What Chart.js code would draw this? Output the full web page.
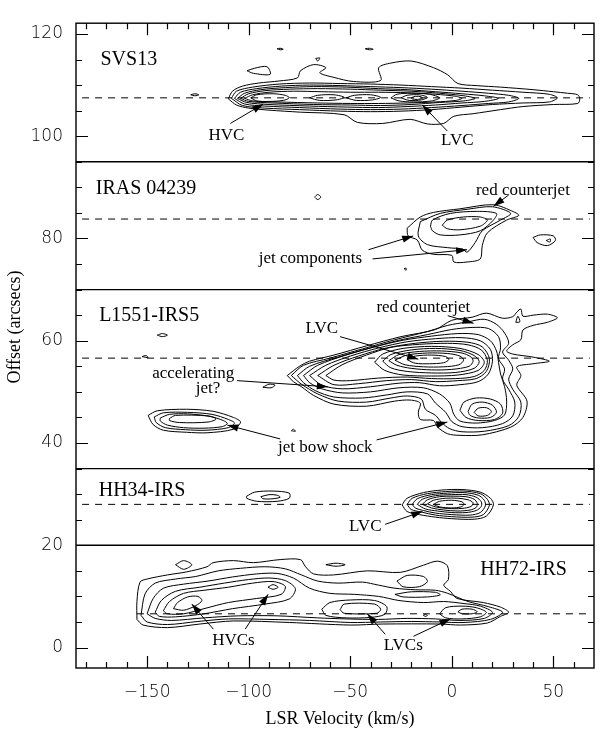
<!DOCTYPE html>
<html>
<head>
<meta charset="utf-8">
<script src="https://cdn.jsdelivr.net/npm/chart.js@4.4.1/dist/chart.umd.min.js"></script>
<style>
  html, body { margin: 0; padding: 0; background: #fff; }
  #c { display: block; }
</style>
</head>
<body>
<canvas id="c" width="600" height="732"></canvas>
<script>
// ---- axes ----
const xRange = [-185, 70];
const yRange = [-4, 122.1];
const xTickLabels = [-150, -100, -50, 0, 50];
const xTicksMinor = [-180, -170, -160, -140, -130, -120, -110, -90, -80, -70, -60, -40, -30, -20, -10, 10, 20, 30, 40, 60];
const yTickLabels = [0, 20, 40, 60, 80, 100, 120];
const yTicksMinor = [5, 10, 15, 25, 30, 35, 45, 50, 55, 65, 70, 75, 85, 90, 95, 105, 110, 115];
const xTitle = 'LSR Velocity (km/s)';
const yTitle = 'Offset (arcsecs)';

// ---- panels: boundaries and source position (dashed) ----
const panelEdges = [95, 70, 35, 20];
const sourceOffsets = [107.5, 83.8, 56.6, 28.0, 6.6];
const sourceLineStart = [-182, -182, -182, -182, -155];
const sourceLineEnd = 68;

// ---- SVS13 contours (velocity km/s, offset arcsec) ----
const svs13_1 = [[-110,107.3],[-108,108.8],[-103,109.8],[-95,110.4],[-85,110.8],[-76,111.4],[-74.5,112.8],[-68,114],[-62,113.4],[-65,112.4],[-58,111.5],[-48.5,110.7],[-35,110.9],[-36,113.4],[-30,114.3],[-20,114.7],[-9,113.4],[-2,112],[3,110.3],[12,109.9],[24,109.6],[40,109.1],[50,108.7],[57,108.4],[62,108.1],[63,107.3],[62,106.4],[50,106.2],[35,105.8],[24,105.2],[10.5,104.4],[1,103.9],[-4,102.5],[-12,102.4],[-20.5,103.3],[-34,102.5],[-46.5,102.7],[-53,104.2],[-74.5,104.7],[-90,105.1],[-100,105.5],[-106,106.1]];
const svs13_2 = [[-108.5,107.4],[-106,108.8],[-98,109.6],[-85,110.2],[-70,110.4],[-55,110.3],[-40,110.2],[-25,110],[-10,109.7],[5,109.4],[20,109],[35,108.6],[48,108.2],[52,107.5],[48,106.7],[35,106.5],[20,106.2],[5,105.7],[-10,105.2],[-25,104.9],[-40,104.8],[-55,104.9],[-75,105.2],[-92,105.5],[-103,106]];
const svs13_3 = [[-107,107.4],[-104,108.6],[-96,109.3],[-84,109.8],[-70,110],[-55,109.9],[-40,109.7],[-25,109.5],[-10,109.2],[5,108.8],[18,108.4],[28,108],[33,107.4],[28,106.7],[18,106.4],[5,106],[-10,105.6],[-25,105.3],[-40,105.2],[-55,105.3],[-75,105.6],[-92,105.9],[-102,106.3]];
const svs13_4 = [[-105.5,107.4],[-102,108.4],[-94,109.1],[-82,109.5],[-68,109.7],[-52,109.6],[-36,109.3],[-22,109.1],[-8,108.7],[5,108.3],[16,107.9],[23,107.4],[16,106.8],[5,106.5],[-8,106.1],[-22,105.8],[-36,105.6],[-52,105.7],[-70,105.9],[-90,106.2],[-101,106.6]];
const svs13_5 = [[-104,107.4],[-100,108.3],[-92,108.9],[-80,109.2],[-66,109.3],[-50,109.2],[-35,109],[-20,108.8],[-6,108.4],[6,107.9],[11.5,107.4],[6,106.9],[-6,106.6],[-20,106.2],[-35,106],[-50,106.1],[-68,106.2],[-88,106.5],[-100,106.8]];
const svs13_6 = [[-102,107.4],[-98,108.1],[-90,108.6],[-78,108.8],[-64,108.7],[-50,108.6],[-36,108.6],[-22,108.5],[-8,108.2],[2,107.8],[5,107.4],[2,107],[-8,106.7],[-22,106.5],[-36,106.4],[-50,106.4],[-66,106.5],[-86,106.7],[-98,106.9]];
const svs13_hvc = [[-99,107.5],[-96,108.1],[-88,108.3],[-82,108],[-80,107.5],[-83,107],[-90,106.8],[-96,106.9]];
const svs13_m1 = [[-70,107.5],[-66,108],[-58,108.1],[-53,107.6],[-57,107.1],[-65,107]];
const svs13_m2 = [[-52,107.5],[-48,108],[-40,108.1],[-35,107.6],[-39,107.1],[-47,107]];
const svs13_lvc1 = [[-30,107.5],[-27,108.2],[-20,108.4],[-11,108.2],[-6,107.5],[-10,106.9],[-19,106.7],[-26,106.9]];
const svs13_lvc2 = [[-25,107.5],[-22,108],[-16,108.1],[-12,107.6],[-15,107.1],[-21,107]];
const svs13_lvc3 = [[-20,107.5],[-18,107.8],[-15,107.7],[-14.5,107.4],[-17,107.2],[-19.5,107.3]];
const svs13_knot1 = [[-100.8,112.8],[-97,113.3],[-91,113.6],[-89.4,112.1],[-97.7,112.3]];
const svs13_knot2 = [[-128.5,108.1],[-126.5,108.3],[-124.5,108.1],[-126.5,107.9]];
const svs13_knot3 = [[-86,117.1],[-84.5,117.2],[-83,117],[-84.5,116.9]];
const svs13_knot4 = [[-42.6,117.1],[-40.6,117.2],[-38.7,117],[-40.6,116.9]];
const svs13_knot5 = [[-67,115.2],[-65,115.3],[-66,114.7]];

// ---- IRAS 04239 contours ----
const iras_1 = [[-22,82],[-15.5,84.2],[-9,85.1],[4,85.8],[20.5,86.6],[30.5,85.2],[33,84.5],[27,83.6],[17.5,81.1],[15,78.6],[14,76],[7.5,75.4],[1,75.4],[0,76.7],[-9,76.9],[-14.5,77.7],[-17,79.7],[-21.5,80.5]];
const iras_2 = [[-15.5,83.3],[-5.7,84.9],[7.5,85.7],[20,86.2],[29,84.9],[24,83.6],[15,81.5],[11.5,79.2],[7.5,77.3],[5.5,77.9],[-2,78.2],[-12,78.8],[-16.5,80.5]];
const iras_3 = [[-10.5,82.4],[-9.5,83.6],[-0.7,84.9],[12.5,85.3],[22,84.9],[20.5,83.6],[14,81.5],[4,80.7],[-5.7,80.7],[-9.5,81.5]];
const iras_4 = [[-4.7,82.6],[-2.2,83.6],[5.7,84.2],[14,84.2],[17.5,83.6],[14,82.4],[4,81.7],[-2.2,81.9]];
const iras_knot1 = [[40,80.2],[43.6,80.7],[50,80.5],[51,79.6],[47,78.6],[42,79.2]];
const iras_knot2 = [[46.5,79.6],[48.5,79.9],[48.3,79.3]];
const iras_knot3 = [[-67.5,88.1],[-66,88.6],[-64.5,88.1],[-66,87.6]];
const iras_knot4 = [[-23.5,74.1],[-22.5,74.2],[-22.5,73.8]];

// ---- L1551-IRS5 contours ----
const l1551_1 = [[-81,53.2],[-75,55],[-70,56],[-58,57.2],[-42,59],[-25,60.8],[-8,62.2],[0,64],[10,64.6],[17,65.4],[25,64.4],[30,64.7],[32,65.6],[34,66.2],[35,64.8],[40,65],[47,65.2],[52,64.5],[47,63.6],[40,63],[35,62.1],[34,60.2],[30,59.2],[27,58],[30,57.4],[40,56.8],[48,56],[40,55.5],[32,54.9],[34,53.2],[32,51.3],[37,48.2],[35,45],[29,43.1],[15,41.6],[4,41.5],[-2,41.8],[-7,43.1],[-9,44.4],[-15.5,44.6],[-16.5,46],[-15.5,47.8],[-20.5,48.4],[-28,48.2],[-42,47.2],[-58,47.6],[-68,49.3],[-74,51],[-78,52]];
const l1551_2 = [[-79,53.2],[-73,55.2],[-60,56.6],[-44,58.4],[-28,60.2],[-12,61.8],[-2,63],[8,63.7],[16,64.2],[22,63.2],[26,61.5],[28,59.5],[25,57.8],[28,56.2],[30,54.5],[28,52.5],[30,50.5],[34,48],[33,45.2],[28,43.4],[16,42.3],[5,42.2],[-1,42.8],[-5,44],[-8,45.4],[-13,46.6],[-15,48.6],[-22,49.2],[-30,48.8],[-42,48],[-56,48.2],[-66,49.6],[-74,51.5]];
const l1551_3 = [[-76,53.2],[-70,55],[-56,56.8],[-40,58.6],[-26,60.1],[-12,61.2],[0,62.2],[10,62.6],[18,62.4],[23,60.8],[24,58.6],[23,56.5],[26,54.5],[25,52.5],[28,50.5],[31,48],[30,45.3],[25,43.8],[15,43],[5,43.2],[0,44.2],[-3,46],[-8,47.8],[-12,49.6],[-22,50],[-32,49.4],[-44,48.8],[-58,49],[-67,50.2],[-73,51.8]];
const l1551_4 = [[-73,53.2],[-66,55.2],[-52,57.2],[-38,58.8],[-24,60.1],[-10,60.9],[3,61.4],[13,61.2],[19,60],[22,58],[23,55.8],[24,53.5],[26,51],[27,48.2],[26,45.5],[21,44.4],[12,43.9],[4,44.3],[1,45.6],[-1,47.8],[-6,49.6],[-14,50.8],[-26,50.8],[-40,50],[-54,49.8],[-64,50.6],[-70,51.8]];
const l1551_5 = [[-70,53.2],[-62,55.2],[-50,57],[-36,58.6],[-22,59.8],[-8,60.4],[5,60.6],[14,60],[19,58.3],[20,56],[18,53.5],[13,52],[4,51.4],[-6,51.2],[-16,51.8],[-26,51.7],[-40,51],[-54,50.6],[-64,51.3]];
const l1551_6 = [[-66,53.2],[-58,55.2],[-46,57],[-32,58.6],[-18,59.5],[-4,59.9],[8,59.7],[15,58.8],[18.5,56.5],[17,54],[12,52.6],[3,52.2],[-8,52],[-20,52.4],[-32,52.2],[-46,51.6],[-58,51.4]];
const l1551_7 = [[-62,53.2],[-54,55.3],[-42,57.2],[-30,58.7],[-16,59.3],[-2,59.5],[8,59.2],[14.5,58.2],[17.5,56.2],[16,54.2],[11,53],[2,52.6],[-10,52.6],[-22,52.9],[-36,52.7],[-50,52.2],[-58,52.3]];
const l1551_e5 = [[-38,55.8],[-34,57.4],[-24,58.5],[-10,58.9],[4,58.5],[13,57.3],[16,55.8],[13,54.2],[3,53.3],[-10,53.1],[-24,53.3],[-33,54.2]];
const l1551_e4 = [[-34,56],[-30,57.3],[-20,58.2],[-8,58.5],[4,58.1],[11,57.1],[13.5,55.9],[11,54.6],[2,53.8],[-10,53.7],[-22,54],[-30,54.7]];
const l1551_e3 = [[-31,56.1],[-26,57.3],[-16,57.9],[-5,58],[5,57.6],[9.5,56.8],[10.5,56],[8.5,55],[0,54.4],[-10,54.3],[-20,54.6],[-27,55.2]];
const l1551_e2 = [[-28,56.2],[-22,57.2],[-12,57.6],[-2,57.5],[4,57],[5.8,56.2],[3.5,55.3],[-4,54.9],[-14,54.9],[-23,55.3]];
const l1551_e1 = [[-22,56.3],[-18,57],[-10,57.2],[-3,56.9],[-1.5,56.3],[-4,55.7],[-11,55.5],[-18,55.6]];
const l1551_b3 = [[4,46.4],[6,48],[12,48.8],[19,48.6],[24,47.6],[25,45.8],[21,44.6],[13,44.4],[7,45]];
const l1551_b2 = [[8,46.2],[10,47.6],[15,48],[20,47.4],[22,46],[19,45],[13,44.9],[9,45.4]];
const l1551_b1 = [[11,46],[13,46.8],[17,46.9],[19.5,46.2],[17.5,45.4],[13,45.3]];
const l1551_cj = [[31.5,63.6],[32.5,64.8],[33.5,63.7]];
const l1551_j1 = [[-149.5,45.4],[-145,46.3],[-130.5,46.6],[-117.5,46.2],[-107.5,45],[-104,44.1],[-107.5,42.7],[-120.5,42],[-130.5,42.1],[-142,42.5],[-147,43.6]];
const l1551_j2 = [[-146.5,45.1],[-142,45.9],[-130,46],[-118,45.6],[-110,44.6],[-107,43.9],[-110,43],[-121,42.5],[-131,42.6],[-141,43],[-145.5,44]];
const l1551_j3 = [[-143.5,44.9],[-139,45.6],[-130,45.7],[-119,45.2],[-112.5,44.4],[-110.5,43.8],[-113,43.2],[-122,42.9],[-132,43],[-140,43.5],[-143.5,44.3]];
const l1551_j4 = [[-139,44.8],[-136,45.4],[-120,45.3],[-116,44.7],[-120,44.1],[-134,44],[-139,44.4]];
const l1551_knot1 = [[-145,61.1],[-142.5,61.4],[-140,61.1],[-142.5,60.8]];
const l1551_knot2 = [[-93,50.9],[-90,51.5],[-87,51.3],[-89,50.8]];
const l1551_knot3 = [[-152.5,56.9],[-150.5,57.1],[-149.5,56.7]];
const l1551_knot4 = [[-79,42.4],[-78,42.7],[-77,42.3]];

// ---- HH34-IRS contours ----
const hh34_1 = [[-24.5,27.9],[-22,29.2],[-14,30.3],[-5,30.8],[5,30.9],[14,30.4],[19,29.2],[20.5,27.9],[17,25.7],[11,25.1],[0,25.2],[-8,25.5],[-16,26],[-22,26.6]];
const hh34_2 = [[-22,28],[-19.5,29.2],[-12,30.1],[-3,30.5],[6,30.6],[14,30.1],[17.5,29],[18.5,27.8],[15.5,26],[10,25.5],[0,25.6],[-8,25.9],[-15,26.5],[-20,27]];
const hh34_3 = [[-19.5,28],[-17,29.1],[-10,29.9],[-2,30.2],[6,30.3],[13,29.8],[16,28.8],[16.5,27.7],[14,26.4],[9,25.9],[0,26],[-8,26.3],[-14,26.8],[-18,27.3]];
const hh34_4 = [[-17,28],[-14.5,29],[-8,29.7],[0,29.9],[7,29.9],[12,29.4],[14.5,28.5],[14.5,27.6],[12,26.8],[7,26.4],[0,26.4],[-7,26.7],[-13,27.1]];
const hh34_5 = [[-14.5,28],[-12,28.9],[-6,29.5],[1,29.6],[7,29.5],[11,29],[12.5,28.2],[12,27.4],[9,26.9],[3,26.7],[-4,26.9],[-10,27.3]];
const hh34_6 = [[-12,28.1],[-9,28.8],[-3,29.2],[3,29.2],[8,28.9],[10.5,28.3],[9.5,27.6],[5,27.2],[-2,27.2],[-8,27.5]];
const hh34_7 = [[-9,28],[-6,28.6],[0,28.8],[5,28.5],[6,28],[4.5,27.5],[0,27.3],[-6,27.5]];
const hh34_k1 = [[-101,29.6],[-97,30.4],[-88,30.6],[-80,30.2],[-80,29.2],[-86,28.6],[-96,28.6],[-101,29.2]];
const hh34_k2 = [[-94,29.5],[-90,29.9],[-86,29.8],[-84.5,29.4],[-88,29.1],[-93,29.1]];

// ---- HH72-IRS contours ----
const hh72_1 = [[-155,5.5],[-155,9],[-153.5,12.8],[-150,13.4],[-140,14.2],[-130.5,14.8],[-120.5,15.8],[-117.5,16.6],[-107.5,17],[-97.7,16.6],[-84.5,17.2],[-74.5,17.2],[-72,15.8],[-68,14.4],[-58.3,14.2],[-41.6,15],[-25.4,14.7],[-14,16.1],[-7.1,16.9],[-2.2,16],[-1.7,13.3],[-4,12.2],[-0.7,11],[2.6,9.6],[15.5,8.8],[24,7.9],[28,6.9],[24,6.1],[17.5,4.8],[4.2,4.4],[-5.7,4.6],[-34,4.6],[-50,4.4],[-80,4.9],[-107.5,5.2],[-124,4.6],[-140,3.9],[-152,4.4]];
const hh72_2 = [[-153,6.3],[-151,10.5],[-146,12.6],[-136,13.4],[-126,13.9],[-115,15],[-104,15.5],[-92,15.8],[-82,15.4],[-74,14.2],[-66,13],[-56,12.6],[-44,12.8],[-36,12.2],[-28,11.6],[-18,11.3],[-8,11.2],[-2,10.6],[8,9],[18,8],[25,6.9],[19,5.5],[6,4.9],[-6,5],[-20,5.1],[-35,5],[-50,4.9],[-70,5.3],[-90,5.5],[-110,5.6],[-125,5.1],[-140,4.5],[-150,5]];
const hh72_3 = [[-150,6.6],[-147,9.6],[-142,11.6],[-132,12.4],[-120,13],[-108,13.8],[-96,14.4],[-86,14.5],[-78,13.6],[-70,11.6],[-60,10.6],[-48,10.4],[-36,10],[-26,9.2],[-14,8.8],[-4,9],[6,8.6],[14,8.1],[20,6.9],[16,5.7],[4,5.3],[-8,5.6],[-22,5.7],[-36,5.5],[-52,5.6],[-66,5.8],[-86,6.2],[-105,6.2],[-122,5.8],[-138,5.3],[-146,5.7]];
const hh72_4 = [[-146,6.9],[-143,9.2],[-136,11],[-124,11.8],[-112,12.6],[-100,13.3],[-90,13.6],[-82,13.1],[-77,11.5],[-80,9.5],[-92,8.5],[-108,7.6],[-122,6.6],[-136,6],[-144,6.1]];
const hh72_5 = [[-142,7.2],[-139,9],[-132,10.6],[-122,11.2],[-110,11.8],[-98,12.6],[-88,12.9],[-82,12],[-84,10.4],[-96,9.6],[-110,8.8],[-122,7.6],[-132,6.6],[-140,6.6]];
const hh72_hvc1 = [[-137,7.6],[-135,8.8],[-130,9.9],[-125,10],[-123,9.2],[-126,8.2],[-132,7.3]];
const hh72_hvc2 = [[-90.5,11.8],[-88,12.3],[-85.5,11.8],[-88,11.4]];
const hh72_lvc1a = [[-64,7.5],[-60,8.8],[-50,9.3],[-38,9.2],[-32,8],[-33,6.5],[-40,5.9],[-52,5.8],[-62,6.3]];
const hh72_lvc1b = [[-55,7.4],[-53,8.5],[-38,8.5],[-35,7.5],[-37,6.7],[-53,6.7]];
const hh72_lvc2a = [[-6,6.6],[-3,7.8],[5,8.1],[12,7.8],[17,6.9],[14,6],[5,5.6],[-3,5.8]];
const hh72_lvc2b = [[3,7],[5,7.5],[10,7.5],[12.5,7],[10,6.6],[5,6.6]];
const hh72_ridge = [[-28,10.4],[-20,10.9],[-8,10.8],[-5.7,10.3],[-12,9.9],[-24,9.9]];
const hh72_knot1 = [[-27,13],[-22,14.1],[-14,13.9],[-12,12.9],[-16,11.9],[-24,11.9]];
const hh72_knot2 = [[-62,16.2],[-57,16.5],[-52.5,16.2],[-57,15.9]];
const hh72_knot3 = [[-136,16.2],[-132,17],[-128,16.2],[-132,15.3]];
const hh72_knot4 = [[-14,6.3],[-13,6.5],[-12,6.3],[-13,6.1]];

const contourRings = [
  svs13_1, svs13_2, svs13_3, svs13_4, svs13_5, svs13_6, svs13_hvc, svs13_m1, svs13_m2,
  svs13_lvc1, svs13_lvc2, svs13_lvc3, svs13_knot1, svs13_knot2, svs13_knot3, svs13_knot4, svs13_knot5,
  iras_1, iras_2, iras_3, iras_4, iras_knot1, iras_knot2, iras_knot3, iras_knot4,
  l1551_1, l1551_2, l1551_3, l1551_4, l1551_5, l1551_6, l1551_7,
  l1551_e5, l1551_e4, l1551_e3, l1551_e2, l1551_e1, l1551_b3, l1551_b2, l1551_b1, l1551_cj,
  l1551_j1, l1551_j2, l1551_j3, l1551_j4, l1551_knot1, l1551_knot2, l1551_knot3, l1551_knot4,
  hh34_1, hh34_2, hh34_3, hh34_4, hh34_5, hh34_6, hh34_7, hh34_k1, hh34_k2,
  hh72_1, hh72_2, hh72_3, hh72_4, hh72_5, hh72_hvc1, hh72_hvc2, hh72_lvc1a, hh72_lvc1b,
  hh72_lvc2a, hh72_lvc2b, hh72_ridge, hh72_knot1, hh72_knot2, hh72_knot3, hh72_knot4
];

// ---- annotation arrows: [tailV, tailOff, headV, headOff] ----
const arrows = [
  [-109, 102.5, -92.8, 106.3],
  [-2.2, 101, -14.5, 106.1],
  [28, 88.5, 20.5, 86.3],
  [-41, 77.8, -19, 80.5],
  [-39, 76, 7.5, 77.8],
  [-2, 64.9, 10.7, 63.4],
  [-55, 60.8, -16.5, 56.4],
  [-105.7, 52.2, -61, 51],
  [-84.5, 40.8, -110.5, 43.5],
  [-37, 40.6, -2.2, 44.1],
  [-32.8, 24.1, -14.5, 26.6],
  [-117.4, 3.6, -128, 8.5],
  [-101.7, 3.6, -90.4, 10.4],
  [-32.8, 2.6, -41.6, 6.6],
  [-18.9, 2.2, -0.7, 5.6]
];

// ---- text: [text, v, off, size] ----
const panelNames = [
  ['SVS13', -159, 114.9, 20],
  ['IRAS 04239', -150.5, 89.8, 20],
  ['L1551-IRS5', -149, 64.8, 20],
  ['HH34-IRS', -152.5, 30.6, 20],
  ['HH72-IRS', 35.3, 15.2, 20]
];
const notes = [
  ['HVC', -111, 100.1, 17],
  ['LVC', 2.7, 99.1, 17],
  ['red counterjet', 35, 89.3, 17],
  ['jet components', -69.6, 76, 17],
  ['red counterjet', -14, 66.4, 17],
  ['LVC', -64, 62.3, 17],
  ['accelerating', -127.3, 53.6, 17],
  ['jet?', -120, 50.7, 17],
  ['jet bow shock', -62.3, 39.1, 17],
  ['LVC', -42.6, 23.7, 17],
  ['HVCs', -107.5, 1.3, 17],
  ['LVCs', -23.9, 0.3, 17]
];

// ---- datasets ----
const toXY = pts => pts.map(p => ({ x: p[0], y: p[1] }));
const datasets = [];
contourRings.forEach(r => {
  datasets.push({
    data: toXY(r.concat([r[0]])),
    showLine: true, borderColor: '#000', borderWidth: 1, pointRadius: 0,
    tension: 0.3, fill: false
  });
});
sourceOffsets.forEach((o, i) => {
  datasets.push({
    data: [{ x: sourceLineStart[i], y: o }, { x: sourceLineEnd, y: o }],
    showLine: true, borderColor: '#000', borderWidth: 1, borderDash: [7, 6],
    pointRadius: 0, tension: 0, fill: false
  });
});
panelEdges.forEach(o => {
  datasets.push({
    data: [{ x: xRange[0], y: o }, { x: xRange[1], y: o }],
    showLine: true, borderColor: '#000', borderWidth: 1.4, pointRadius: 0, tension: 0, fill: false
  });
});
arrows.forEach(a => {
  datasets.push({
    data: [{ x: a[0], y: a[1] }, { x: a[2], y: a[3] }],
    showLine: true, borderColor: '#000', borderWidth: 1, pointRadius: 0, tension: 0, fill: false
  });
});

const fmtTick = v => (v < 0 ? '\u2212' + Math.abs(v) : String(v));
const serif = '"Liberation Serif", "Times New Roman", serif';

// frame, inward tick marks, arrow heads, text and axis titles
const decorations = {
  id: 'decorations',
  afterDatasetsDraw(chart) {
    const { ctx, chartArea: a, scales: { x, y } } = chart;
    ctx.save();
    ctx.strokeStyle = '#000';
    ctx.fillStyle = '#000';
    ctx.lineWidth = 1.4;
    ctx.strokeRect(a.left, a.top, a.right - a.left, a.bottom - a.top);

    ctx.lineWidth = 1.2;
    const xt = (v, len) => {
      const px = Math.round(x.getPixelForValue(v)) + 0.5;
      ctx.beginPath();
      ctx.moveTo(px, a.bottom); ctx.lineTo(px, a.bottom - len);
      ctx.moveTo(px, a.top); ctx.lineTo(px, a.top + len);
      ctx.stroke();
    };
    const yt = (v, len) => {
      const py = Math.round(y.getPixelForValue(v)) + 0.5;
      ctx.beginPath();
      ctx.moveTo(a.left, py); ctx.lineTo(a.left + len, py);
      ctx.moveTo(a.right, py); ctx.lineTo(a.right - len, py);
      ctx.stroke();
    };
    xTickLabels.forEach(v => xt(v, 12));
    xTicksMinor.forEach(v => xt(v, 6));
    yTickLabels.forEach(v => yt(v, 12));
    yTicksMinor.forEach(v => yt(v, 6));

    arrows.forEach(ar => {
      const x1 = x.getPixelForValue(ar[0]), y1 = y.getPixelForValue(ar[1]);
      const x2 = x.getPixelForValue(ar[2]), y2 = y.getPixelForValue(ar[3]);
      const ang = Math.atan2(y2 - y1, x2 - x1);
      const L = 11, W = 3.6;
      const bx = x2 - L * Math.cos(ang), by = y2 - L * Math.sin(ang);
      ctx.beginPath();
      ctx.moveTo(x2, y2);
      ctx.lineTo(bx + W * Math.sin(ang), by - W * Math.cos(ang));
      ctx.lineTo(bx - W * Math.sin(ang), by + W * Math.cos(ang));
      ctx.closePath();
      ctx.fill();
    });

    ctx.textAlign = 'center';
    ctx.textBaseline = 'middle';
    panelNames.concat(notes).forEach(t => {
      ctx.font = t[3] + 'px ' + serif;
      ctx.fillText(t[0], x.getPixelForValue(t[1]), y.getPixelForValue(t[2]));
    });

    // axis titles
    ctx.font = '18px ' + serif;
    ctx.fillText(xTitle, 340, 719);
    ctx.translate(15, 327);
    ctx.rotate(-Math.PI / 2);
    ctx.fillText(yTitle, 0, 0);
    ctx.restore();
  }
};

new Chart(document.getElementById('c'), {
  type: 'scatter',
  data: { datasets },
  options: {
    responsive: false,
    animation: false,
    devicePixelRatio: 1,
    layout: { padding: { top: 4, right: 6, left: 0, bottom: 0 } },
    plugins: { legend: { display: false }, tooltip: { enabled: false } },
    scales: {
      x: {
        type: 'linear', min: xRange[0], max: xRange[1],
        grid: { display: false, drawTicks: false },
        border: { display: false },
        afterBuildTicks: s => { s.ticks = xTickLabels.map(v => ({ value: v })); },
        afterFit: s => { s.height = 64; },
        ticks: {
          autoSkip: false, maxRotation: 0, padding: 14, color: '#000',
          font: { family: 'DejaVu Sans', size: 17, weight: '200' },
          callback: v => fmtTick(v)
        },
        title: { display: false }
      },
      y: {
        type: 'linear', min: yRange[0], max: yRange[1],
        grid: { display: false, drawTicks: false },
        border: { display: false },
        afterBuildTicks: s => { s.ticks = yTickLabels.map(v => ({ value: v })); },
        afterFit: s => { s.width = 76; },
        ticks: {
          autoSkip: false, padding: 13, color: '#000',
          font: { family: 'DejaVu Sans', size: 17, weight: '200' },
          callback: v => fmtTick(v)
        },
        title: { display: false }
      }
    }
  },
  plugins: [decorations]
});
</script>
</body>
</html>
